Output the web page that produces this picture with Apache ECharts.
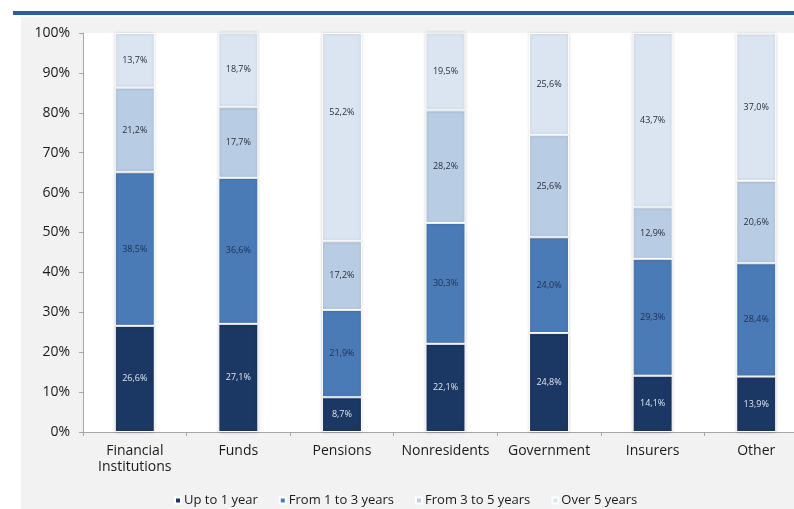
<!DOCTYPE html>
<html>
<head>
<meta charset="utf-8">
<script src="https://cdn.jsdelivr.net/npm/echarts@6/dist/echarts.min.js"></script>
<style>
  html, body { margin: 0; padding: 0; background: #ffffff; }
  #chart { width: 794px; height: 509px; }
</style>
</head>
<body>
<div id="chart"></div>
<script>
// Maturity breakdown by holder (shares of each holder's total, %)
const categories = ['Financial\nInstitutions', 'Funds', 'Pensions', 'Nonresidents', 'Government', 'Insurers', 'Other'];
const seriesNames = ['Up to 1 year', 'From 1 to 3 years', 'From 3 to 5 years', 'Over 5 years'];
const upTo1Year   = [26.6, 27.1,  8.7, 22.1, 24.8, 14.1, 13.9];
const from1To3    = [38.5, 36.6, 21.9, 30.3, 24.0, 29.3, 28.4];
const from3To5    = [21.2, 17.7, 17.2, 28.2, 25.6, 12.9, 20.6];
const over5Years  = [13.7, 18.7, 52.2, 19.5, 25.6, 43.7, 37.0];
const yTicks = [0, 10, 20, 30, 40, 50, 60, 70, 80, 90, 100];

const seriesValues = [upTo1Year, from1To3, from3To5, over5Years];
const fills = ['#1b3763', '#4a7bb7', '#b8cce4', '#dbe5f1'];
const labelColors = ['#dfe6f0', '#1d2f52', '#2a2f3a', '#2a2f3a'];
const font = 'Open Sans';

const fmt = v => v.toFixed(1).replace('.', ',') + '%';

const series = seriesValues.map((vals, s) => ({
  name: seriesNames[s],
  type: 'bar',
  stack: 'total',
  barWidth: 40,
  data: vals.map((v, i) => {
    const item = { value: v };
    // the long "Over 5 years" segment of Pensions has its label raised
    if (s === 3 && i === 2) item.label = { offset: [0, -25] };
    return item;
  }),
  itemStyle: {
    color: fills[s],
    borderColor: '#ffffff',
    borderWidth: 1,
    shadowColor: 'rgba(0,0,0,0.18)',
    shadowBlur: 3
  },
  label: {
    show: true,
    position: 'inside',
    formatter: p => fmt(p.value),
    fontFamily: font,
    fontSize: 9,
    color: labelColors[s]
  }
}));

const chart = echarts.init(document.getElementById('chart'), null, { renderer: 'canvas' });
chart.setOption({
  backgroundColor: '#ffffff',
  animation: false,
  textStyle: { fontFamily: font },
  graphic: [
    { type: 'rect', z: -10, shape: { x: 21, y: 17, width: 773, height: 492 }, style: { fill: '#f2f2f2' } },
    { type: 'rect', z: -10, shape: { x: 13, y: 11, width: 781, height: 4 }, style: { fill: '#2f5f97' } }
  ],
  grid: {
    show: true,
    backgroundColor: '#ffffff',
    borderWidth: 0,
    left: 83,
    top: 33,
    height: 399,
    width: 725,
    containLabel: false,
    outerBoundsMode: 'none'
  },
  legend: {
    data: seriesNames,
    left: 169,
    top: 489,
    icon: 'rect',
    itemWidth: 6,
    itemHeight: 6,
    itemGap: 21,
    textStyle: { fontFamily: font, fontSize: 13, color: '#1a1a1a', padding: [0, 0, 0, -2] }
  },
  xAxis: {
    type: 'category',
    data: categories,
    axisLine: { lineStyle: { color: '#a6a6a6', width: 1 } },
    axisTick: { show: true, length: 4, lineStyle: { color: '#a6a6a6' } },
    axisLabel: {
      fontFamily: font,
      fontSize: 14,
      color: '#1a1a1a',
      margin: 11,
      lineHeight: 16,
      interval: 0
    }
  },
  yAxis: {
    type: 'value',
    min: yTicks[0],
    max: yTicks[yTicks.length - 1],
    interval: yTicks[1] - yTicks[0],
    axisLine: { show: true, lineStyle: { color: '#a6a6a6', width: 1 } },
    axisTick: { show: true, length: 4, lineStyle: { color: '#a6a6a6' } },
    splitLine: { show: false },
    axisLabel: {
      fontFamily: font,
      fontSize: 14,
      color: '#1a1a1a',
      margin: 13,
      formatter: '{value}%'
    }
  },
  series: series
});
</script>
</body>
</html>
